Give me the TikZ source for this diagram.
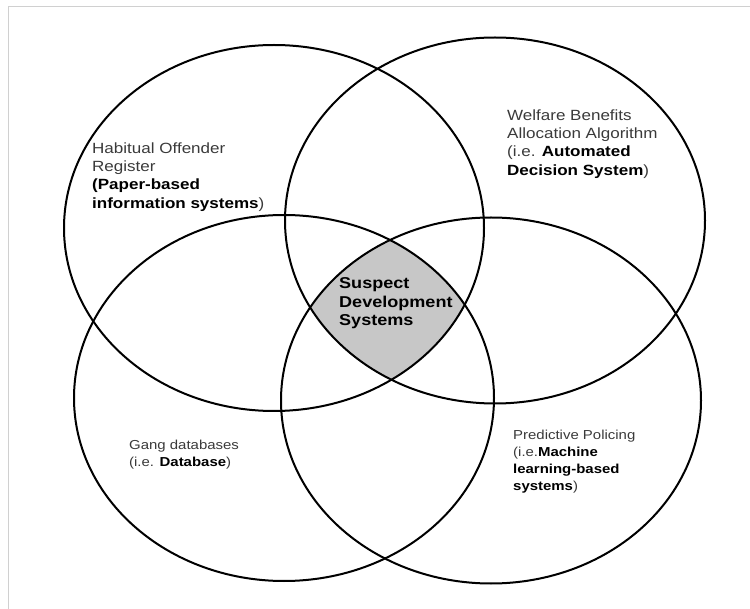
\documentclass[tikz,border=0pt]{standalone}
\usepackage{fontspec}
\usepackage{tikz}
\usetikzlibrary{shapes.geometric}
\newfontfamily\vennfont[FakeStretch=1.15]{Liberation Sans}
\definecolor{lensgray}{RGB}{199,199,199}
\definecolor{textgray}{RGB}{58,58,58}
\definecolor{framegray}{RGB}{208,208,208}
\newcommand{\boldpart}[1]{{\bfseries\color{black}#1}}

\begin{document}
\begin{tikzpicture}[x=1pt,y=-1pt,
                    set/.style={ellipse,draw=black,line width=2pt,inner sep=0pt,
                                minimum width=420pt,minimum height=366pt},
                    lbl/.style={anchor=west,align=left,inner sep=0pt,text=textgray},
                    big/.style={font={\vennfont\fontsize{14.8}{18.2}\selectfont}},
                    small/.style={font={\vennfont\fontsize{13}{16.8}\selectfont}}]
  \useasboundingbox (0,0) rectangle (750,609);
  \draw[framegray,line width=1.5pt] (8.5,609) -- (8.5,6.5) -- (750,6.5);

  \coordinate (c1) at (274,228);
  \coordinate (c2) at (495,220.5);
  \coordinate (c3) at (284,398);
  \coordinate (c4) at (491,400.5);

  % common part of the four sets
  \begin{scope}
    \clip (c1) ellipse [x radius=210pt, y radius=183pt];
    \clip (c2) ellipse [x radius=210pt, y radius=183pt];
    \clip (c3) ellipse [x radius=210pt, y radius=183pt];
    \fill[lensgray] (c4) ellipse [x radius=210pt, y radius=183pt];
  \end{scope}

  \node[set] (habitual)   at (c1) {};
  \node[set] (welfare)    at (c2) {};
  \node[set] (gang)       at (c3) {};
  \node[set] (predictive) at (c4) {};

  \node[lbl,big] (habitualtext) at (92,177)
    {Habitual Offender\\Register\\\boldpart{(Paper-based}\\\boldpart{information systems})};
  \node[lbl,big] (welfaretext) at (507,144)
    {Welfare Benefits\\Allocation Algorithm\\(i.e. \boldpart{Automated}\\\boldpart{Decision System})};
  \node[lbl,text=black,font={\vennfont\bfseries\fontsize{15.7}{18.5}\selectfont}]
    (suspect) at (339,303.5) {Suspect\\Development\\Systems};
  \node[lbl,small] (gangtext) at (129,454.5)
    {Gang databases\\(i.e. \boldpart{Database})};
  \node[lbl,small] (predictivetext) at (513,461.5)
    {Predictive Policing\\(i.e.\boldpart{Machine}\\\boldpart{learning-based}\\\boldpart{systems})};
\end{tikzpicture}
\end{document}
